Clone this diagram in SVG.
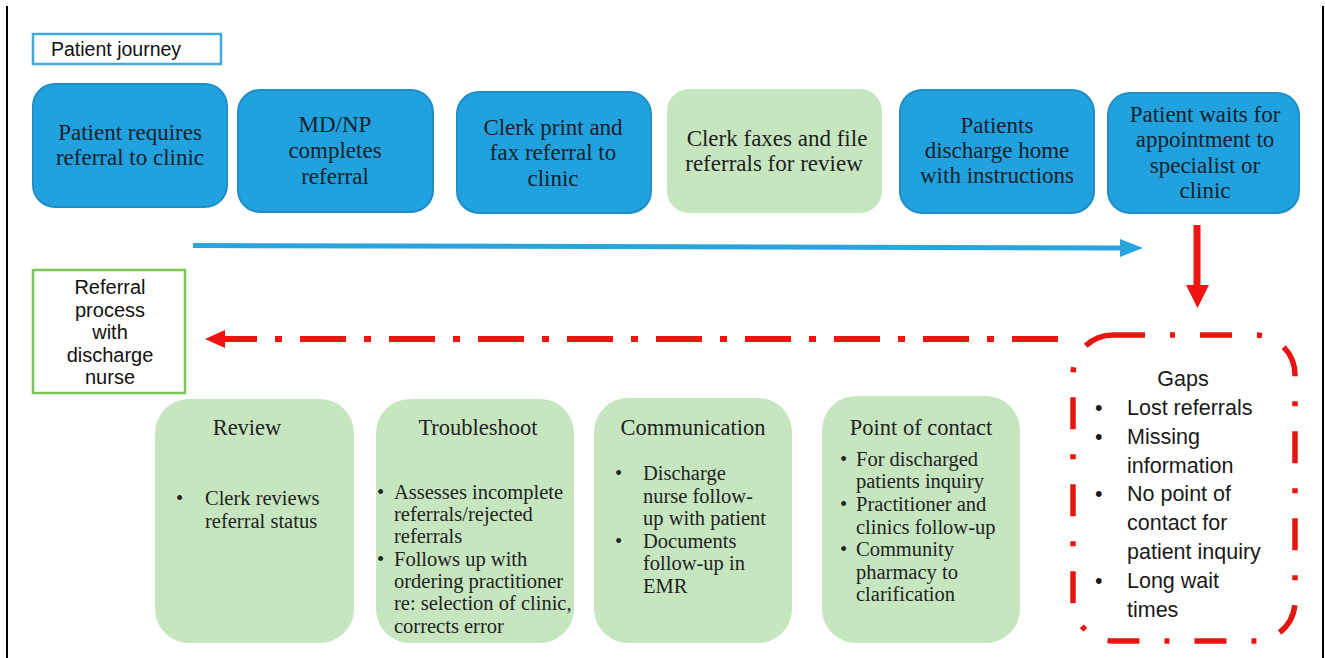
<svg xmlns="http://www.w3.org/2000/svg" width="1325" height="658" viewBox="0 0 1325 658">
<defs>
<style>
.frame{stroke:#000;stroke-width:2}
.blue{fill:#21a1dd;stroke:#1d8fc6;stroke-width:2}
.green{fill:#c6e6c0;stroke:none}
.tb{font-family:"Liberation Serif","DejaVu Serif",serif;font-size:23px;fill:#15222e;text-anchor:middle}
.tg{font-family:"Liberation Serif","DejaVu Serif",serif;font-size:23px;fill:#1e1e1e;text-anchor:middle}
.title{font-family:"Liberation Serif","DejaVu Serif",serif;font-size:22.5px;fill:#222;text-anchor:middle}
.body{font-family:"Liberation Serif","DejaVu Serif",serif;font-size:20.5px;fill:#222}
.sans{font-family:"Liberation Sans",Arial,sans-serif;fill:#111}
.gap{font-family:"Liberation Sans",Arial,sans-serif;fill:#1a1a1a;font-size:21.5px}
.ref{font-family:"Liberation Sans",Arial,sans-serif;fill:#111;font-size:20px;text-anchor:middle}
</style>
</defs>
<rect width="1325" height="658" fill="#fff"/>
<line class="frame" x1="7" y1="6" x2="7" y2="658"/>
<line class="frame" x1="1323" y1="6" x2="1323" y2="658"/>

<g id="label-patient-journey">
<rect x="33" y="34" width="188" height="30" fill="#fff" stroke="#43a9dc" stroke-width="2.5"/>
<text class="sans" x="51" y="55.5" font-size="19.5">Patient journey</text>
</g>

<g id="node-1">
<rect class="blue" x="33" y="84" width="194" height="123" rx="22"/>
<text class="tb" x="130" y="140">Patient requires</text>
<text class="tb" x="130" y="165">referral to clinic</text>
</g>
<g id="node-2">
<rect class="blue" x="238" y="90" width="195" height="122" rx="22"/>
<text class="tb" x="335" y="132">MD/NP</text>
<text class="tb" x="335" y="158">completes</text>
<text class="tb" x="335" y="184">referral</text>
</g>
<g id="node-3">
<rect class="blue" x="457" y="92" width="194" height="121" rx="22"/>
<text class="tb" x="553" y="135">Clerk print and</text>
<text class="tb" x="553" y="160">fax referral to</text>
<text class="tb" x="553" y="186">clinic</text>
</g>
<g id="node-4">
<rect class="green" x="667" y="89" width="215" height="124" rx="22"/>
<text class="tg" x="777" y="146">Clerk faxes and file</text>
<text class="tg" x="774" y="171">referrals for review</text>
</g>
<g id="node-5">
<rect class="blue" x="900" y="90" width="194" height="123" rx="22"/>
<text class="tb" x="997" y="133">Patients</text>
<text class="tb" x="997" y="158">discharge home</text>
<text class="tb" x="997" y="183">with instructions</text>
</g>
<g id="node-6">
<rect class="blue" x="1108" y="93" width="191" height="120" rx="22"/>
<text class="tb" x="1205" y="122">Patient waits for</text>
<text class="tb" x="1205" y="147">appointment to</text>
<text class="tb" x="1205" y="173">specialist or</text>
<text class="tb" x="1205" y="198">clinic</text>
</g>

<g id="label-referral-process">
<rect x="33" y="270" width="152" height="123" fill="#fff" stroke="#7cc45c" stroke-width="2.5"/>
<text class="ref" x="110" y="294">Referral</text>
<text class="ref" x="110" y="316.5">process</text>
<text class="ref" x="110" y="339">with</text>
<text class="ref" x="110" y="361.5">discharge</text>
<text class="ref" x="110" y="384">nurse</text>
</g>

<g id="node-review">
<rect class="green" x="155" y="399" width="199" height="244" rx="34"/>
<text class="title" x="247" y="435">Review</text>
<text class="body" x="176" y="505">•</text>
<text class="body" x="205" y="505">Clerk reviews</text>
<text class="body" x="205" y="528">referral status</text>
</g>
<g id="node-troubleshoot">
<rect class="green" x="376" y="399" width="198" height="244" rx="34"/>
<text class="title" x="478" y="435">Troubleshoot</text>
<text class="body" x="377" y="499">•</text>
<text class="body" x="394" y="499">Assesses incomplete</text>
<text class="body" x="394" y="521">referrals/rejected</text>
<text class="body" x="394" y="543">referrals</text>
<text class="body" x="377" y="566">•</text>
<text class="body" x="394" y="566">Follows up with</text>
<text class="body" x="394" y="588">ordering practitioner</text>
<text class="body" x="394" y="610">re: selection of clinic,</text>
<text class="body" x="394" y="633">corrects error</text>
</g>
<g id="node-communication">
<rect class="green" x="594" y="398" width="198" height="245" rx="34"/>
<text class="title" x="693" y="435">Communication</text>
<text class="body" x="615" y="480">•</text>
<text class="body" x="643" y="480">Discharge</text>
<text class="body" x="643" y="503">nurse follow-</text>
<text class="body" x="643" y="525">up with patient</text>
<text class="body" x="615" y="548">•</text>
<text class="body" x="643" y="548">Documents</text>
<text class="body" x="643" y="570">follow-up in</text>
<text class="body" x="643" y="593">EMR</text>
</g>
<g id="node-point-of-contact">
<rect class="green" x="822" y="396" width="198" height="247" rx="34"/>
<text class="title" x="921" y="435">Point of contact</text>
<text class="body" x="840" y="466">•</text>
<text class="body" x="856" y="466">For discharged</text>
<text class="body" x="856" y="488">patients inquiry</text>
<text class="body" x="840" y="511">•</text>
<text class="body" x="856" y="511">Practitioner and</text>
<text class="body" x="856" y="534">clinics follow-up</text>
<text class="body" x="840" y="556">•</text>
<text class="body" x="856" y="556">Community</text>
<text class="body" x="856" y="579">pharmacy to</text>
<text class="body" x="856" y="601">clarification</text>
</g>

<g id="node-gaps">
<rect x="1073" y="335" width="222" height="306" rx="40" fill="none" stroke="#e8140f" stroke-width="5.5" stroke-dasharray="32 25 5 25"/>
<text class="gap" text-anchor="middle" x="1183" y="386">Gaps</text>
<text class="gap" x="1095" y="415">•</text>
<text class="gap" x="1127" y="415">Lost referrals</text>
<text class="gap" x="1095" y="444">•</text>
<text class="gap" x="1127" y="444">Missing</text>
<text class="gap" x="1127" y="473">information</text>
<text class="gap" x="1095" y="501">•</text>
<text class="gap" x="1127" y="501">No point of</text>
<text class="gap" x="1127" y="530">contact for</text>
<text class="gap" x="1127" y="559">patient inquiry</text>
<text class="gap" x="1095" y="588">•</text>
<text class="gap" x="1127" y="588">Long wait</text>
<text class="gap" x="1127" y="617">times</text>
</g>

<g id="connectors">
<line x1="193" y1="245.5" x2="1122" y2="248" stroke="#2aa4dc" stroke-width="5"/>
<polygon points="1120,239 1143,248 1120,257" fill="#2aa4dc"/>
<line x1="1197" y1="225" x2="1197" y2="287" stroke="#ee1410" stroke-width="7"/>
<polygon points="1186,285 1209,285 1197.5,308" fill="#ee1410"/>
<line x1="1058" y1="339" x2="223" y2="339" stroke="#ee1410" stroke-width="6" stroke-dasharray="46 18 7 18"/>
<polygon points="225,330 205,339 225,348" fill="#ee1410"/>
</g>
</svg>
